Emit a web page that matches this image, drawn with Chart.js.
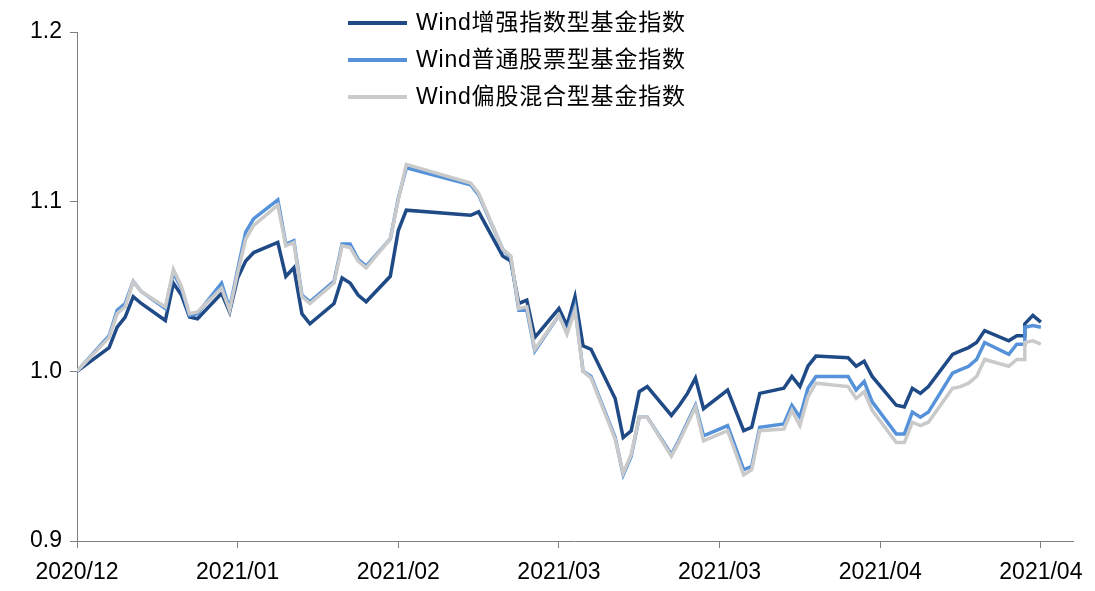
<!DOCTYPE html>
<html>
<head>
<meta charset="utf-8">
<script src="https://cdn.jsdelivr.net/npm/chart.js@4.4.1/dist/chart.umd.min.js"></script>
<style>
  html, body { margin: 0; padding: 0; background: #fff; }
  #wrap { position: relative; width: 1095px; height: 591px; }
  #legend {
    position: absolute; left: 348px; top: 4px;
    font: 23px "Liberation Sans", "Noto Sans CJK SC", sans-serif; color: #000;
  }
  .item { display: flex; align-items: center; height: 37px; line-height: 37px; }
  .item span:last-child { letter-spacing: 0.8px; }
  .swatch { width: 59px; height: 4px; margin-right: 9px; }
</style>
</head>
<body>
<div id="wrap">
  <canvas id="chart" width="1095" height="591"></canvas>
  <div id="legend"></div>
</div>
<script>
// trading days (04-28 appears twice: the chart shows a flat step then a jump on that day)
const dates = [
  '2020-12-31',
  '2021-01-04', '2021-01-05', '2021-01-06', '2021-01-07', '2021-01-08',
  '2021-01-11', '2021-01-12', '2021-01-13', '2021-01-14', '2021-01-15',
  '2021-01-18', '2021-01-19', '2021-01-20', '2021-01-21', '2021-01-22',
  '2021-01-25', '2021-01-26', '2021-01-27', '2021-01-28', '2021-01-29',
  '2021-02-01', '2021-02-02', '2021-02-03', '2021-02-04', '2021-02-05',
  '2021-02-08', '2021-02-09', '2021-02-10', '2021-02-18', '2021-02-19',
  '2021-02-22', '2021-02-23', '2021-02-24', '2021-02-25', '2021-02-26',
  '2021-03-01', '2021-03-02', '2021-03-03', '2021-03-04', '2021-03-05',
  '2021-03-08', '2021-03-09', '2021-03-10', '2021-03-11', '2021-03-12',
  '2021-03-15', '2021-03-16', '2021-03-17', '2021-03-18', '2021-03-19',
  '2021-03-22', '2021-03-23', '2021-03-24', '2021-03-25', '2021-03-26',
  '2021-03-29', '2021-03-30', '2021-03-31', '2021-04-01', '2021-04-02',
  '2021-04-06', '2021-04-07', '2021-04-08', '2021-04-09',
  '2021-04-12', '2021-04-13', '2021-04-14', '2021-04-15', '2021-04-16',
  '2021-04-19', '2021-04-20', '2021-04-21', '2021-04-22', '2021-04-23',
  '2021-04-26', '2021-04-27', '2021-04-28', '2021-04-28', '2021-04-29', '2021-04-30'
];

const seriesNames = ['Wind增强指数型基金指数', 'Wind普通股票型基金指数', 'Wind偏股混合型基金指数'];

const enhanced = [
  1.000,
  1.014, 1.026, 1.032, 1.044, 1.040,
  1.030, 1.052, 1.045, 1.032, 1.031,
  1.046, 1.035, 1.055, 1.065, 1.070,
  1.076, 1.056, 1.061, 1.034, 1.028,
  1.040, 1.055, 1.052, 1.045, 1.041,
  1.056, 1.083, 1.095, 1.092, 1.094,
  1.068, 1.065, 1.040, 1.042, 1.020,
  1.037, 1.027, 1.044, 1.015, 1.013,
  0.984, 0.961, 0.965, 0.988, 0.991,
  0.974, 0.980, 0.987, 0.996, 0.978,
  0.989, 0.977, 0.965, 0.967, 0.987,
  0.990, 0.997, 0.991, 1.003, 1.009,
  1.008, 1.003, 1.006, 0.997,
  0.980, 0.979, 0.990, 0.987, 0.991,
  1.010, 1.012, 1.014, 1.017, 1.024,
  1.018, 1.021, 1.021, 1.028, 1.033, 1.029
];

const stock = [
  1.000,
  1.021, 1.036, 1.040, 1.053, 1.047,
  1.037, 1.058, 1.049, 1.033, 1.034,
  1.052, 1.037, 1.060, 1.082, 1.090,
  1.101, 1.075, 1.077, 1.045, 1.041,
  1.053, 1.075, 1.075, 1.066, 1.062,
  1.078, 1.102, 1.120, 1.110, 1.104,
  1.072, 1.067, 1.036, 1.036, 1.012,
  1.033, 1.023, 1.038, 1.000, 0.997,
  0.961, 0.939, 0.950, 0.973, 0.973,
  0.951, 0.960, 0.970, 0.980, 0.962,
  0.968, 0.955, 0.942, 0.944, 0.967,
  0.969, 0.980, 0.973, 0.990, 0.997,
  0.997, 0.989, 0.994, 0.982,
  0.963, 0.963, 0.976, 0.973, 0.976,
  0.999, 1.001, 1.003, 1.007, 1.017,
  1.010, 1.016, 1.016, 1.026, 1.027, 1.026
];

const hybrid = [
  1.000,
  1.020, 1.034, 1.038, 1.053, 1.047,
  1.038, 1.060, 1.050, 1.034, 1.035,
  1.049, 1.036, 1.058, 1.078, 1.086,
  1.098, 1.074, 1.076, 1.044, 1.040,
  1.052, 1.074, 1.073, 1.065, 1.061,
  1.078, 1.101, 1.122, 1.111, 1.105,
  1.072, 1.068, 1.037, 1.038, 1.013,
  1.033, 1.022, 1.036, 1.000, 0.996,
  0.960, 0.940, 0.951, 0.973, 0.973,
  0.950, 0.959, 0.969, 0.979, 0.959,
  0.965, 0.952, 0.939, 0.942, 0.965,
  0.966, 0.977, 0.968, 0.985, 0.993,
  0.991, 0.984, 0.988, 0.977,
  0.958, 0.958, 0.970, 0.968, 0.970,
  0.990, 0.991, 0.993, 0.997, 1.007,
  1.003, 1.007, 1.007, 1.017, 1.018, 1.016
];

const colors = ['#1F4A86', '#5592DA', '#CACACA'];

const DAY = 86400000;
function toUTC(s) {
  const [y, m, d] = s.split('-').map(Number);
  return Date.UTC(y, m - 1, d);
}
const base = toUTC(dates[0]);
const xs = dates.map(d => (toUTC(d) - base) / DAY);

function points(values) {
  return values.map((v, i) => ({ x: xs[i], y: v }));
}

function monthLabel(v) {
  const dt = new Date(base + v * DAY);
  const m = dt.getUTCMonth() + 1;
  return dt.getUTCFullYear() + '/' + (m < 10 ? '0' + m : m);
}

const tickFont = { family: '"Liberation Sans", Arial, sans-serif', size: 23 };
const axisColor = '#7f7f7f';

const ctx = document.getElementById('chart').getContext('2d');
const chart = new Chart(ctx, {
    type: 'line',
    data: {
        datasets: [enhanced, stock, hybrid].map((vals, i) => ({
            label: seriesNames[i],
            data: points(vals),
            borderColor: colors[i],
            backgroundColor: colors[i],
            borderWidth: 3.5,
            pointRadius: 0,
            tension: 0,
            order: 3 - i   // grey drawn on top, as in the picture
        }))
    },
    options: {
        responsive: false,
        animation: false,
        layout: { padding: { top: 32, right: 22, left: 0, bottom: 0 } },
        plugins: {
            legend: { display: false },
            tooltip: { enabled: false }
        },
        scales: {
            x: {
                type: 'linear',
                min: 0,
                max: 124,
                ticks: {
                    stepSize: 20,
                    includeBounds: false,
                    autoSkip: false,
                    maxRotation: 0,
                    padding: 11,
                    color: '#000',
                    font: tickFont,
                    callback: v => monthLabel(v)
                },
                grid: { drawOnChartArea: false, tickLength: 7, color: axisColor },
                border: { color: axisColor, width: 1 },
                afterFit: s => { s.height = 50; }
            },
            y: {
                min: 0.9,
                max: 1.2,
                ticks: {
                    stepSize: 0.1,
                    padding: 8,
                    color: '#000',
                    font: tickFont,
                    callback: v => Number(v).toFixed(1)
                },
                grid: { drawOnChartArea: false, tickLength: 7, color: axisColor },
                border: { color: axisColor, width: 1 },
                afterFit: s => { s.width = 77; }
            }
        }
    }
});

// legend stacked in one column, built from the datasets
const legend = document.getElementById('legend');
chart.data.datasets.forEach(ds => {
    const row = document.createElement('div');
    row.className = 'item';
    const sw = document.createElement('span');
    sw.className = 'swatch';
    sw.style.background = ds.borderColor;
    const txt = document.createElement('span');
    txt.textContent = ds.label;
    row.appendChild(sw);
    row.appendChild(txt);
    legend.appendChild(row);
});
</script>
</body>
</html>
